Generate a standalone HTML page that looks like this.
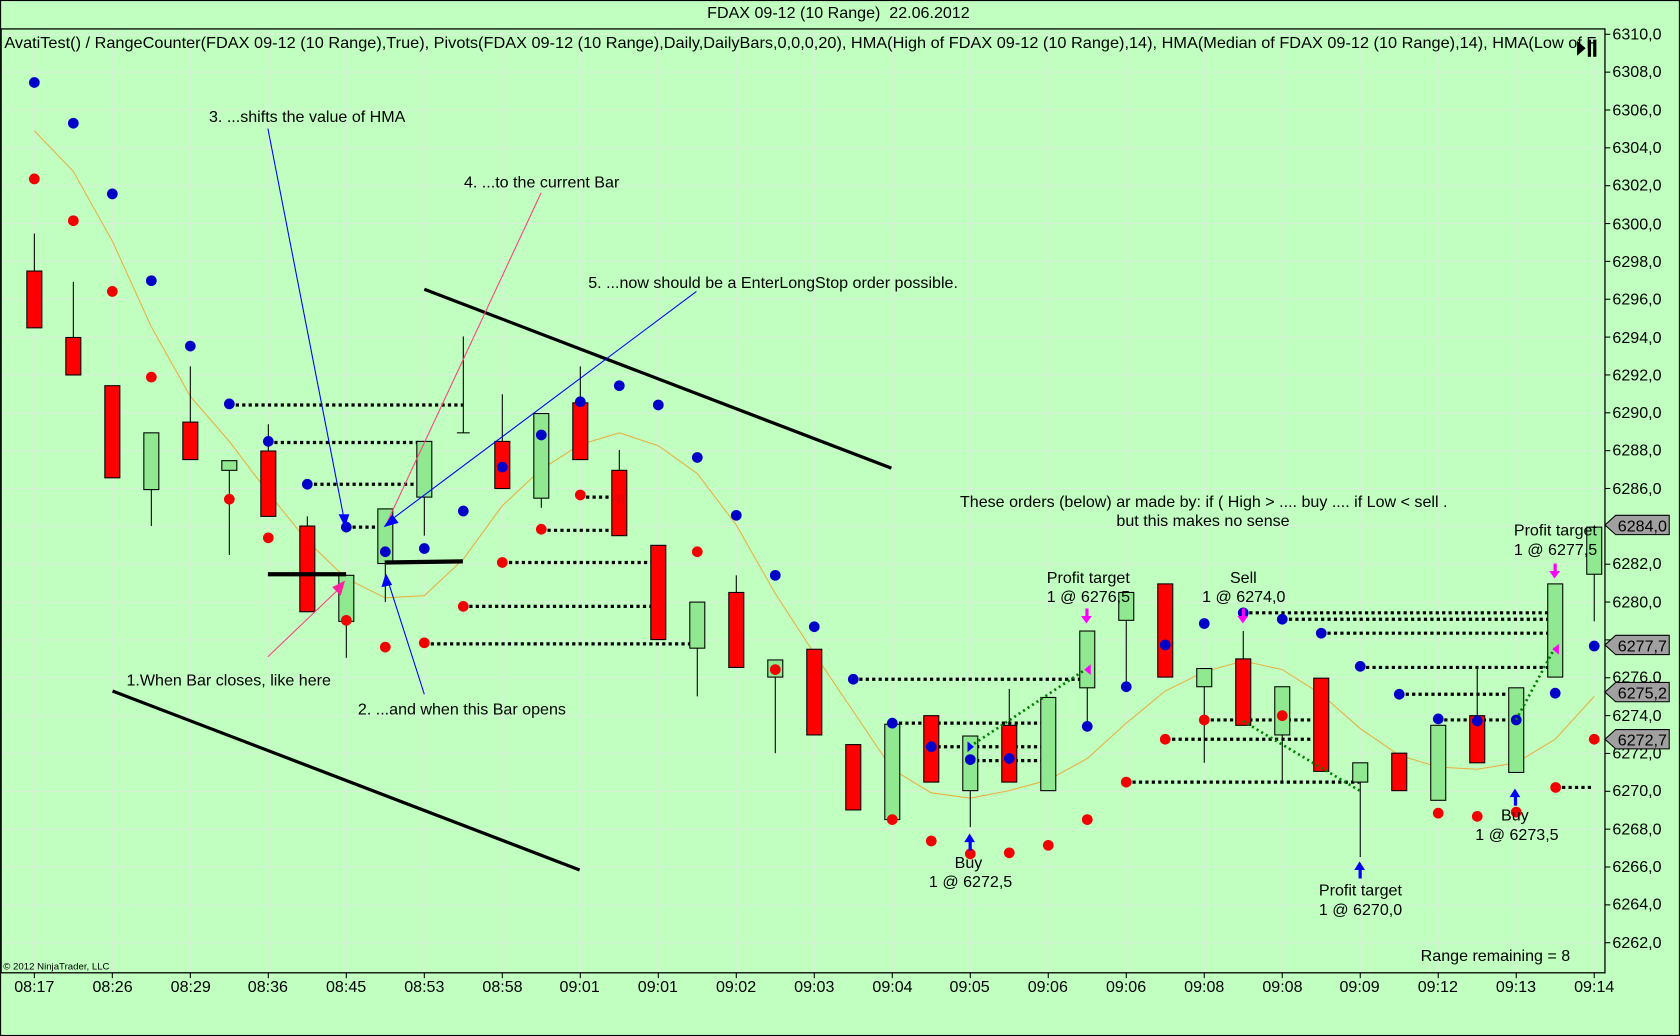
<!DOCTYPE html>
<html><head><meta charset="utf-8"><style>
html,body{margin:0;padding:0;background:#c0ffc0;}
svg{display:block;font-family:"Liberation Sans",sans-serif;}
</style></head><body>
<svg id="s" width="1680" height="1036" viewBox="0 0 1568 967" xmlns="http://www.w3.org/2000/svg">
<rect x="0" y="0" width="1568" height="967" fill="#c0ffc0"/>
<g id="grid"></g>
<g id="dl" stroke="#000" stroke-width="3" stroke-dasharray="3,3"></g>
<polyline id="hma" fill="none" stroke="#e8b040" stroke-width="1"/>
<g id="bars"></g>
<g id="dots"></g>
<line x1="105" y1="645" x2="541" y2="812" stroke="#000" stroke-width="3"/>
<line x1="396" y1="270" x2="832" y2="437" stroke="#000" stroke-width="3"/>
<line x1="250" y1="536" x2="323" y2="536" stroke="#000" stroke-width="4"/>
<line x1="359" y1="525" x2="432" y2="524" stroke="#000" stroke-width="4"/>
<line x1="250" y1="120" x2="321" y2="484" stroke="#0000ff" stroke-width="1"/>
<polygon points="316,480 326,480 322,492" fill="#0000ff"/>
<line x1="505" y1="180" x2="362" y2="486" stroke="#ff4080" stroke-width="1"/>
<line x1="650" y1="272" x2="364" y2="486" stroke="#0000ff" stroke-width="1"/>
<polygon points="358,492 366,480 372,488" fill="#0000ff"/>
<line x1="396" y1="648" x2="362" y2="542" stroke="#0000ff" stroke-width="1"/>
<polygon points="360,535 356,548 366,546" fill="#0000ff"/>
<line x1="250" y1="613" x2="318" y2="548" stroke="#ff4080" stroke-width="1"/>
<polygon points="322,542 310,548 318,556" fill="#ff20a0"/>
<g stroke="#008000" stroke-width="2.5" stroke-dasharray="2,3" fill="none">
<line x1="905" y1="697" x2="1013" y2="625"/>
<line x1="1160" y1="673" x2="1269" y2="738"/>
<line x1="1415" y1="672" x2="1451" y2="605"/>
</g>
<g fill="#0000ff"><rect x="904" y="784" width="3" height="10"/><polygon points="900,786 905,778 910,786"/>
<rect x="1268" y="810" width="3" height="10"/><polygon points="1264,812 1269,804 1274,812"/>
<rect x="1413" y="742" width="3" height="10"/><polygon points="1409,744 1414,736 1419,744"/></g>
<g fill="#ff00ff"><rect x="1013" y="568" width="3" height="9"/><polygon points="1009,575 1014,582 1019,575"/>
<rect x="1159" y="568" width="3" height="9"/><polygon points="1155,575 1160,582 1165,575"/>
<rect x="1450" y="526" width="3" height="9"/><polygon points="1446,533 1451,540 1456,533"/>
<polygon points="1012,625 1018,620 1018,630"/><polygon points="1449,606 1455,601 1455,611"/></g>
<polygon points="903,692 903,702 909,697" fill="#0000ff"/>
<g font-size="15" fill="#000">
<text x="195" y="114">3. ...shifts the value of HMA</text>
<text x="433" y="175">4. ...to the current Bar</text>
<text x="549" y="269">5. ...now should be a EnterLongStop order possible.</text>
<text x="118" y="640">1.When Bar closes, like here</text>
<text x="334" y="667">2. ...and when this Bar opens</text>
<text x="896" y="473" textLength="455">These orders (below) ar made by: if ( High &gt; .... buy .... if  Low &lt;  sell .</text>
<text x="1042" y="491">but this makes no sense</text>
<text x="977" y="544">Profit target</text><text x="977" y="562">1 @ 6276,5</text>
<text x="1148" y="544">Sell</text><text x="1122" y="562">1 @ 6274,0</text>
<text x="1413" y="500">Profit target</text><text x="1413" y="518">1 @ 6277,5</text>
<text x="891" y="810">Buy</text><text x="867" y="828">1 @ 6272,5</text>
<text x="1231" y="836">Profit target</text><text x="1231" y="854">1 @ 6270,0</text>
<text x="1401" y="766">Buy</text><text x="1377" y="784">1 @ 6273,5</text>
<text x="1326" y="897">Range remaining = 8</text>
<text x="4" y="45" textLength="1486" lengthAdjust="spacingAndGlyphs">AvatiTest() / RangeCounter(FDAX 09-12 (10 Range),True), Pivots(FDAX 09-12 (10 Range),Daily,DailyBars,0,0,0,20), HMA(High of FDAX 09-12 (10 Range),14), HMA(Median of FDAX 09-12 (10 Range),14), HMA(Low of F</text>
<text x="660" y="17" xml:space="preserve">FDAX 09-12 (10 Range)  22.06.2012</text>
</g>
<polygon points="1472,38 1480,45 1472,52" fill="#000"/><rect x="1482" y="37" width="3" height="16" fill="#000"/><rect x="1487" y="37" width="3" height="16" fill="#000"/>
<text x="3" y="905" font-size="9" fill="#000">© 2012 NinjaTrader, LLC</text>
<rect x="1" y="27" width="1497" height="881" fill="none" stroke="#000" stroke-width="1.2"/>
<rect x="0.5" y="0.5" width="1567" height="966" fill="none" stroke="#000"/>
<g id="yt" stroke="#000"></g>
<g font-size="15" fill="#000">
<text x="1505" y="37">6310,0</text><text x="1505" y="72">6308,0</text><text x="1505" y="108">6306,0</text><text x="1505" y="143">6304,0</text><text x="1505" y="178">6302,0</text><text x="1505" y="214">6300,0</text><text x="1505" y="249">6298,0</text><text x="1505" y="284">6296,0</text><text x="1505" y="320">6294,0</text><text x="1505" y="355">6292,0</text><text x="1505" y="390">6290,0</text><text x="1505" y="425">6288,0</text><text x="1505" y="461">6286,0</text><text x="1505" y="531">6282,0</text><text x="1505" y="567">6280,0</text><text x="1505" y="637">6276,0</text><text x="1505" y="673">6274,0</text><text x="1505" y="708">6272,0</text><text x="1505" y="743">6270,0</text><text x="1505" y="779">6268,0</text><text x="1505" y="814">6266,0</text><text x="1505" y="849">6264,0</text><text x="1505" y="885">6262,0</text>
</g>
<g font-size="15">
<polygon points="1498,490 1508,481 1558,481 1558,499 1508,499" fill="#a0a0a0" stroke="#000"/><text x="1510" y="496">6284,0</text>
<polygon points="1498,602 1508,593 1558,593 1558,611 1508,611" fill="#a0a0a0" stroke="#000"/><text x="1510" y="608">6277,7</text>
<polygon points="1498,646 1508,637 1558,637 1558,655 1508,655" fill="#a0a0a0" stroke="#000"/><text x="1510" y="652">6275,2</text>
<polygon points="1498,690 1508,681 1558,681 1558,699 1508,699" fill="#a0a0a0" stroke="#000"/><text x="1510" y="696">6272,7</text>
</g>
<g font-size="15" fill="#000" text-anchor="middle">
<text x="32" y="926">08:17</text><text x="105" y="926">08:26</text><text x="178" y="926">08:29</text><text x="250" y="926">08:36</text><text x="323" y="926">08:45</text><text x="396" y="926">08:53</text><text x="469" y="926">08:58</text><text x="541" y="926">09:01</text><text x="614" y="926">09:01</text><text x="687" y="926">09:02</text><text x="760" y="926">09:03</text><text x="833" y="926">09:04</text><text x="905" y="926">09:05</text><text x="978" y="926">09:06</text><text x="1051" y="926">09:06</text><text x="1124" y="926">09:08</text><text x="1197" y="926">09:08</text><text x="1269" y="926">09:09</text><text x="1342" y="926">09:12</text><text x="1415" y="926">09:13</text><text x="1488" y="926">09:14</text>
</g>
<g id="xt" stroke="#000"></g>
<script>
const NS="http://www.w3.org/2000/svg";
function el(p,t,a){const e=document.createElementNS(NS,t);for(const k in a)e.setAttribute(k,a[k]);document.getElementById(p).appendChild(e);return e;}
const X=i=>32+36.4*i;
for(let i=0;i<=40;i+=2){el('grid','line',{x1:X(i),y1:28,x2:X(i),y2:907,stroke:'#d8f0d8','stroke-width':1});el('xt','line',{x1:X(i),y1:908,x2:X(i),y2:913});}
for(let y=32;y<=882;y+=35.33){el('grid','line',{x1:2,y1:y,x2:1497,y2:y,stroke:'#d8f0d8','stroke-width':1});el('yt','line',{x1:1498,y1:y,x2:1503,y2:y});}
const B=[['r',253,306,218,306],['r',315,350,263,350],['r',360,446,360,446],['g',404,457,404,491],['r',394,429,342,429],['g',430,439,430,518],['r',421,482,396,482],['r',491,571,482,571],['g',537,580,537,614],['g',475,526,475,562],['g',412,464,412,500],['d',404,404,314,404],['r',412,456,368,456],['g',386,465,386,474],['r',376,429,342,429],['r',439,500,420,500],['r',509,597,509,597],['g',562,605,562,650],['r',553,623,537,623],['g',616,632,616,703],['r',606,686,606,686],['r',695,756,695,756],['g',676,765,676,765],['r',668,730,668,730],['g',687,738,687,772],['r',677,730,643,730],['g',651,738,651,738],['g',589,642,589,676],['g',553,579,553,642],['r',545,632,545,632],['g',624,641,624,712],['r',615,677,589,677],['g',641,686,641,730],['r',633,720,633,720],['g',712,730,712,800],['r',703,738,703,738],['g',677,747,677,747],['r',668,712,624,712],['g',642,721,642,721],['g',545,632,545,632],['g',492,536,492,580]];
const D=[[214,432,378],[250,396,413],[287,396,452],[323,359,492],[505,578,495],[469,614,525],[432,614,566],[396,651,601],[541,578,464],[796,1015,634],[833,978,675],[869,978,697],[905,978,710],[1051,1269,730],[1088,1233,690],[1124,1233,672],[1160,1451,572],[1197,1451,578],[1233,1451,591],[1269,1451,623],[1306,1415,648],[1342,1415,672],[1452,1488,735]];
D.forEach(d=>el('dl','line',{x1:d[0],y1:d[2],x2:d[1],y2:d[2]}));
B.forEach((b,i)=>{const x=X(i);el('bars','line',{x1:x,y1:b[3],x2:x,y2:b[4],stroke:'#000','stroke-width':1});
 if(b[0]=='d'){el('bars','line',{x1:x-6,y1:b[1],x2:x+6,y2:b[1],stroke:'#000'});return;}
 el('bars','rect',{x:x-7,y:b[1],width:14,height:b[2]-b[1],fill:b[0]=='r'?'#ff0000':'#90e890',stroke:'#000','stroke-width':1});});
const BL=[77,115,181,262,323,377,412,452,492,515,512,477,436,406,375,360,378,427,481,537,585,634,675,697,709,708,null,678,641,602,582,572,578,591,622,648,671,673,672,647,603];
const RD=[167,206,272,352,null,466,502,null,579,604,600,566,525,494,462,466,null,515,null,625,null,null,765,785,797,796,789,765,730,690,672,null,668,null,null,null,759,762,758,null,690];
RD.forEach((y,i)=>{if(y)el('dots','circle',{cx:X(i),cy:y,r:5,fill:'#f00000'});});
el('dots','circle',{cx:1452,cy:735,r:5,fill:'#f00000'});
BL.forEach((y,i)=>{if(y)el('dots','circle',{cx:X(i),cy:y,r:5,fill:'#0000c8'});});
const H=[122,160,225,305,370,412,460,505,540,558,556,522,472,438,415,404,416,442,490,554,610,664,718,740,745,738,728,708,675,645,627,617,625,648,680,705,716,718,712,690,650];
document.getElementById('hma').setAttribute('points',H.map((y,i)=>X(i)+','+y).join(' '));
</script>
</svg>
</body></html>
